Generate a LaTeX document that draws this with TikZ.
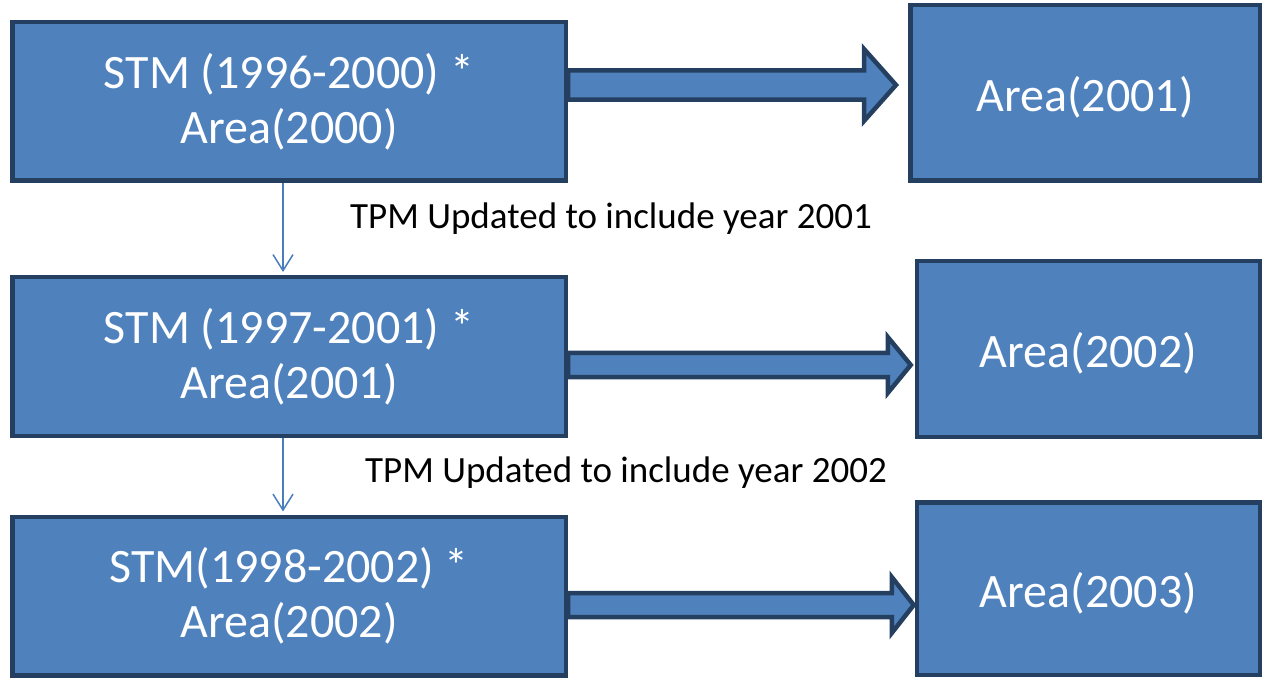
\documentclass[tikz,border=0pt]{standalone}
\usepackage{fontspec}
\setmainfont{Carlito}
\usepackage{xcolor}
\usetikzlibrary{arrows.meta,calc}
\definecolor{boxfill}{HTML}{4F81BD}
\definecolor{boxline}{HTML}{243F60}
\definecolor{linkblue}{HTML}{4A7EBB}
\tikzset{
  stmbox/.style={draw=boxline,fill=boxfill,line width=4.5pt,text=white,align=center,inner sep=0pt,font=\fontsize{48pt}{55pt}\selectfont},
  leftbox/.style={stmbox,minimum width=553.5pt,minimum height=158.5pt},
  rightbox/.style={stmbox,minimum width=343pt,minimum height=175.5pt,text height=44pt,text depth=7pt},
  blockarrow/.style={draw=boxline,fill=boxfill,line width=4.5pt,line join=miter},
  linkarrow/.style={-{Straight Barb[length=16pt,width=20pt]},draw=linkblue,line width=1.5pt,shorten >=3pt},
  tpmnote/.style={inner sep=0pt,font=\fontsize{37pt}{44pt}\selectfont}
}

\begin{document}
\begin{tikzpicture}[x=1pt,y=1pt]
  \useasboundingbox (0,0) rectangle (1265,678);
  % left column
  \node[leftbox] (l1) at (289,576.5) {STM (1996-2000) *\\Area(2000)};
  \node[leftbox] (l2) at (289,321.5) {STM (1997-2001) *\\Area(2001)};
  \node[leftbox] (l3) at (289,82) {STM(1998-2002) *\\Area(2002)};
  % right column
  \node[rightbox,minimum width=349.5pt] (r1) at (1085,585) {Area(2001)};
  \node[rightbox] (r2) at (1088.5,329) {Area(2002)};
  \node[rightbox,minimum height=172.5pt] (r3) at (1088.5,89.5) {Area(2003)};
  % block arrows
  \foreach \a/\b/\yc/\hs/\hh/\hl/\gap in {l1/r1/593/14.7/36/32/12, l2/r2/313/12/28/23/4, l3/r3/73/12/28/22/1}{
    \draw[blockarrow] let \p1=(\a.east), \p2=(\b.west) in
      (\x1,{(\yc+\hs)*1pt}) -- ({\x2-(\gap+\hl)*1pt},{(\yc+\hs)*1pt})
      -- ({\x2-(\gap+\hl)*1pt},{(\yc+\hh)*1pt}) -- ({\x2-\gap*1pt},{\yc*1pt})
      -- ({\x2-(\gap+\hl)*1pt},{(\yc-\hh)*1pt}) -- ({\x2-(\gap+\hl)*1pt},{(\yc-\hs)*1pt})
      -- (\x1,{(\yc-\hs)*1pt}) -- cycle;
  }
  % updates
  \draw[linkarrow] ([xshift=-6pt]l1.south) -- ([xshift=-6pt]l2.north);
  \draw[linkarrow] ([xshift=-6pt]l2.south) -- ([xshift=-6pt]l3.north);
  \node[tpmnote] (t1) at (611,459) {TPM Updated to include year 2001};
  \node[tpmnote] (t2) at (626,205) {TPM Updated to include year 2002};
\end{tikzpicture}
\end{document}
